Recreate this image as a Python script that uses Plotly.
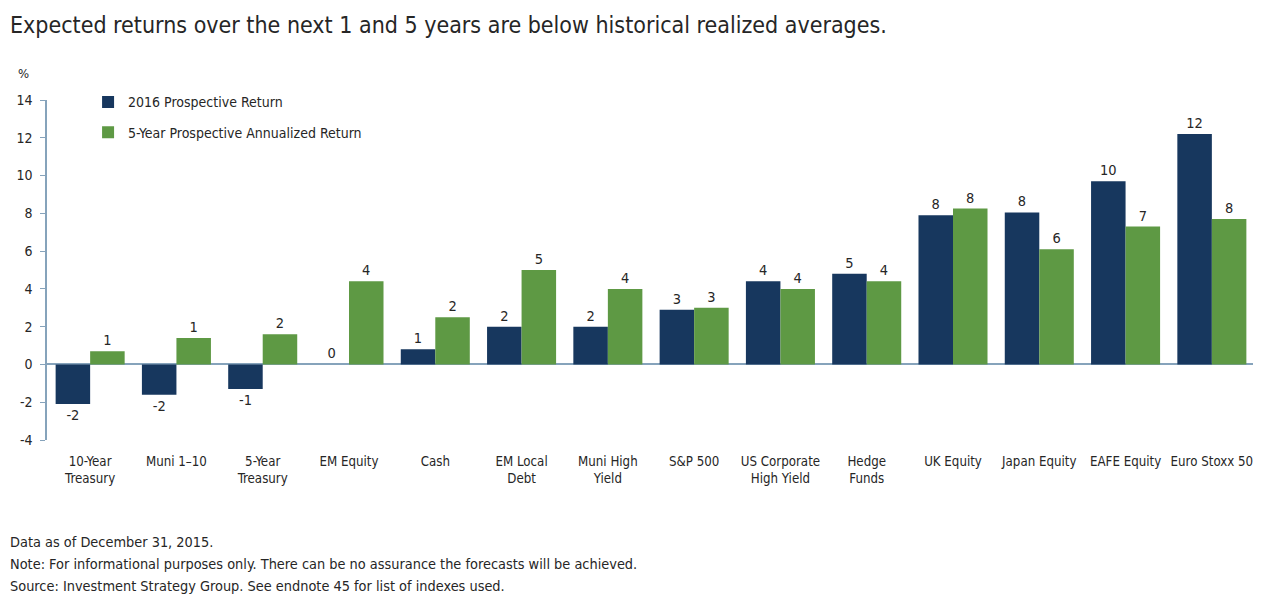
import plotly.graph_objects as go

categories = ["10-Year<br>Treasury", "Muni 1–10", "5-Year<br>Treasury", "EM Equity", "Cash",
              "EM Local<br>Debt", "Muni High<br>Yield", "S&P 500", "US Corporate<br>High Yield",
              "Hedge<br>Funds", "UK Equity", "Japan Equity", "EAFE Equity", "Euro Stoxx 50"]
ret_2016 = [-2.1, -1.6, -1.3, 0.0, 0.8, 2.0, 2.0, 2.9, 4.4, 4.8, 7.9, 8.05, 9.7, 12.2]
ret_5yr = [0.7, 1.4, 1.6, 4.4, 2.5, 5.0, 4.0, 3.0, 4.0, 4.4, 8.25, 6.1, 7.3, 7.7]
labels_2016 = ["-2", "-2", "-1", "0", "1", "2", "2", "3", "4", "5", "8", "8", "10", "12"]
labels_5yr = ["1", "1", "2", "4", "2", "5", "4", "3", "4", "4", "8", "6", "7", "8"]
y_ticks = [-4, -2, 0, 2, 4, 6, 8, 10, 12, 14]
y_ticktext = ["-4", "-2", "0", "2", "4", "6", "8", "10", "12", "14"]

FONT = "DejaVu Sans Condensed, Liberation Sans Narrow, sans-serif"
NAVY = "#17375e"
GREEN = "#5e9944"
AXIS = "#86a3bb"
TXT = "#262626"

fig = go.Figure()
fig.add_trace(go.Bar(x=categories, y=ret_2016, name="2016 Prospective Return",
                     marker=dict(color=NAVY, line=dict(width=0)),
                     text=labels_2016, textposition="outside", cliponaxis=False,
                     textfont=dict(size=14.5, color=TXT, family=FONT), legendgroup="a"))
fig.add_trace(go.Bar(x=categories, y=ret_5yr, name="5-Year Prospective Annualized Return",
                     marker=dict(color=GREEN, line=dict(width=0)),
                     text=labels_5yr, textposition="outside", cliponaxis=False,
                     textfont=dict(size=14.5, color=TXT, family=FONT), legendgroup="b"))

# page is drawn with an 8px body margin, so the figure is sized/offset to compensate
fig.update_layout(
    width=1253, height=598,
    margin=dict(l=39, r=6, t=92, b=166),
    paper_bgcolor="white", plot_bgcolor="white",
    font=dict(family=FONT, size=14, color=TXT),
    barmode="group", bargap=0.2, bargroupgap=0,
    showlegend=True,
    legend=dict(x=0.034, y=1.04, xanchor="left", yanchor="top",
                font=dict(size=14, color=TXT, family=FONT),
                traceorder="grouped", tracegroupgap=9,
                bgcolor="rgba(0,0,0,0)", itemwidth=30),
)
fig.update_xaxes(showgrid=False, showline=False, ticks="", zeroline=False, tickangle=0,
                 automargin=False,
                 tickfont=dict(size=13.2, color=TXT, family=FONT), ticklabelstandoff=12)
fig.update_yaxes(range=[-4, 14], tickvals=y_ticks, ticktext=y_ticktext, showgrid=False,
                 automargin=False,
                 showline=True, linecolor=AXIS, linewidth=1.5,
                 ticks="outside", ticklen=5, tickcolor=AXIS, tickwidth=1,
                 zeroline=True, zerolinecolor=AXIS, zerolinewidth=1.5,
                 tickfont=dict(size=14, color=TXT, family=FONT), ticklabelstandoff=5)

fig.add_annotation(text="Expected returns over the next 1 and 5 years are below historical realized averages.",
                   xref="paper", yref="paper", x=-0.032, y=1.0, xanchor="left", yanchor="middle",
                   yshift=75, showarrow=False, font=dict(size=23, color=TXT, family=FONT))
fig.add_annotation(text="%", xref="paper", yref="paper", x=-0.026, y=1.0, xanchor="left",
                   yanchor="middle", yshift=27, showarrow=False, font=dict(size=13, color=TXT, family=FONT))
notes = ["Data as of December 31, 2015.",
         "Note: For informational purposes only. There can be no assurance the forecasts will be achieved.",
         "Source: Investment Strategy Group. See endnote 45 for list of indexes used."]
for i, n in enumerate(notes):
    fig.add_annotation(text=n, xref="paper", yref="paper", x=-0.032, y=0, xanchor="left",
                       yanchor="middle", yshift=-(542 - 440) - 22 * i, showarrow=False,
                       font=dict(size=14.4, color=TXT, family=FONT))

fig.write_html("out.html")
